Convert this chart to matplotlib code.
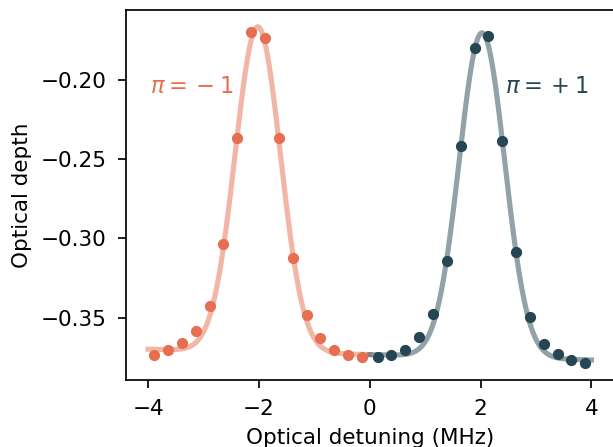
import numpy as np
import matplotlib
matplotlib.use("Agg")
import matplotlib.pyplot as plt

# measured points (MHz, optical depth)
x_minus = [-3.89, -3.64, -3.39, -3.14, -2.89, -2.64, -2.39, -2.14,
           -1.89, -1.64, -1.39, -1.14, -0.89, -0.64, -0.39, -0.14]
od_minus = [-0.3737, -0.3705, -0.3662, -0.3582, -0.3425, -0.3038, -0.2368, -0.1699,
            -0.1739, -0.2368, -0.3127, -0.3486, -0.3631, -0.3705, -0.3737, -0.3750]

x_plus = [0.14, 0.39, 0.64, 0.89, 1.14, 1.39, 1.64, 1.89,
          2.14, 2.39, 2.64, 2.89, 3.14, 3.39, 3.64, 3.89]
od_plus = [-0.3752, -0.3737, -0.3703, -0.3624, -0.3478, -0.3145, -0.2420, -0.1801,
           -0.1724, -0.2389, -0.3087, -0.3497, -0.3667, -0.3731, -0.3766, -0.3788]

# gaussian fit parameters: center, amplitude, sigma
fit_minus = (-2.02, 0.205, 0.41)
fit_plus = (2.025, 0.2046, 0.41)
bg_offset, bg_slope = -0.3734, -0.00085

c_minus = '#e76f51'
c_plus = '#264653'


def model(x, p):
    x0, a, s = p
    return bg_offset + bg_slope * x + a * np.exp(-(x - x0) ** 2 / (2 * s ** 2))


fig = plt.figure(figsize=(613 / 155, 447 / 155), dpi=155)
ax = fig.add_axes([0.2054, 0.1499, 0.7956, 0.8277])

xf_minus = np.linspace(-4, 0, 400)
xf_plus = np.linspace(0, 4, 400)
ax.plot(xf_minus, model(xf_minus, fit_minus), color=c_minus, alpha=0.5, lw=2.4)
ax.plot(xf_plus, model(xf_plus, fit_plus), color=c_plus, alpha=0.5, lw=2.4)
ax.plot(x_minus, od_minus, 'o', color=c_minus, ms=4.2)
ax.plot(x_plus, od_plus, 'o', color=c_plus, ms=4.2)

ax.text(-3.97, -0.2045, r'$\pi = {}- 1$', color=c_minus, ha='left', va='center', fontsize=10.5)
ax.text(2.44, -0.2045, r'$\pi = {}+ 1$', color=c_plus, ha='left', va='center', fontsize=10.5)

ax.tick_params(pad=5.5)
ax.set_xlabel('Optical detuning (MHz)')
ax.set_ylabel('Optical depth')

fig.savefig('out.png', dpi=155)
